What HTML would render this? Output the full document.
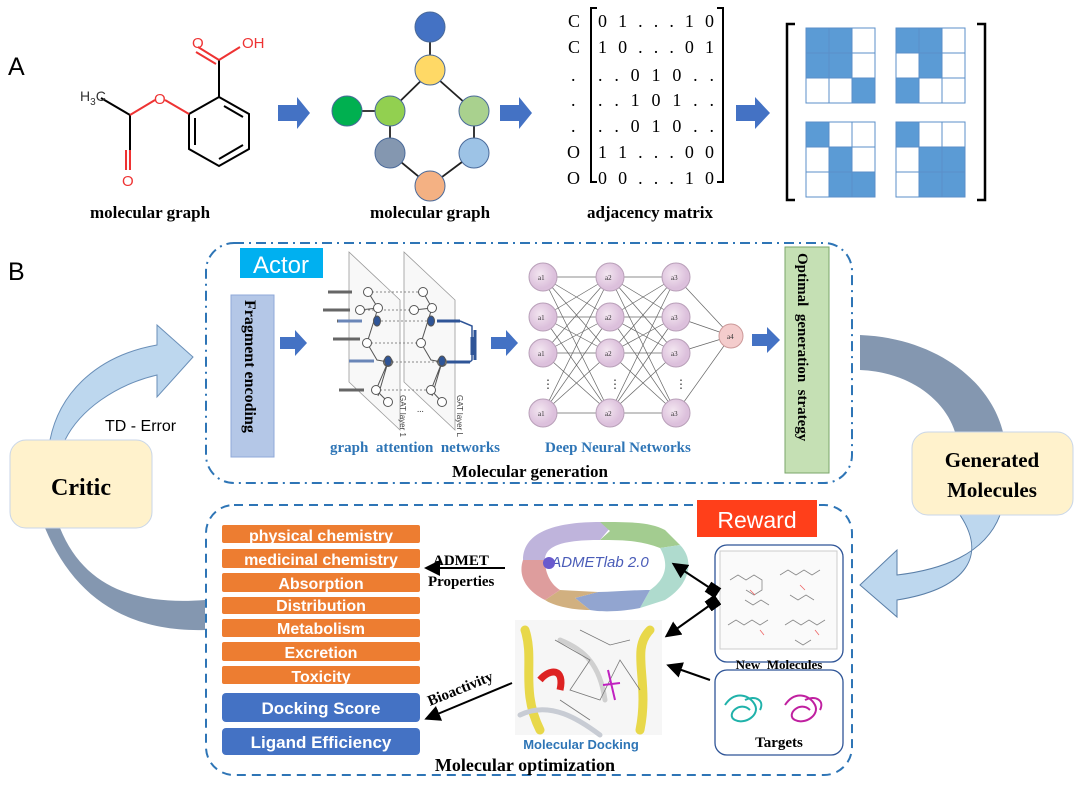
<!DOCTYPE html>
<html><head><meta charset="utf-8"><style>
html,body{margin:0;padding:0;background:#fff;}
svg{display:block;}
.s{font-family:"Liberation Serif",serif;font-weight:bold;}
.a{font-family:"Liberation Sans",sans-serif;}
</style></head><body>
<svg id="v" width="1080" height="786" viewBox="0 0 1080 786" xmlns="http://www.w3.org/2000/svg">
<defs>
<marker id="ah" markerWidth="8" markerHeight="8" refX="6" refY="4" orient="auto"><path d="M0,0 L8,4 L0,8 Z" fill="#000"/></marker>
<marker id="sq" markerWidth="6" markerHeight="6" refX="3" refY="3" orient="auto"><rect width="6" height="6" fill="#000"/></marker>
<radialGradient id="pk" cx="0.4" cy="0.4"><stop offset="0" stop-color="#f3e6f0"/><stop offset="1" stop-color="#dcc0dc"/></radialGradient>
</defs>
<!-- A -->
<text x="8" y="75" class="a" font-size="25">A</text>
<!-- aspirin -->
<g stroke="#000" stroke-width="2" fill="none">
<path d="M219,97 L249,114 L249,149 L219,166 L189,149 L189,114 Z"/>
<path d="M224,106 L243,117 M243,145 L219,159 M195,145 L195,118"/>
<path d="M219,97 L219,60"/>
<path d="M101,98 L130,115 L130,150"/>
</g>
<g stroke="#e33" stroke-width="2" fill="none">
<path d="M219,60 L198,47 M216,64 L196,52 M219,60 L240,47"/>
<path d="M130,115 L155,100 M189,114 L165,100 M130,150 L130,170 M126,150 L126,170"/>
</g>
<text x="192" y="48" fill="#e33" class="a" font-size="15">O</text>
<text x="242" y="48" fill="#e33" class="a" font-size="15">OH</text>
<text x="154" y="104" fill="#e33" class="a" font-size="15">O</text>
<text x="122" y="186" fill="#e33" class="a" font-size="15">O</text>
<text x="80" y="101" fill="#333" class="a" font-size="14">H<tspan font-size="10" dy="4">3</tspan><tspan dy="-4">C</tspan></text>
<text x="150" y="218" class="s" font-size="17" text-anchor="middle">molecular graph</text>
<!-- arrows -->
<g fill="#4472c4">
<path d="M278,105 L297,105 L297,97 L310,113 L297,129 L297,121 L278,121 Z"/>
<path d="M500,105 L519,105 L519,97 L532,113 L519,129 L519,121 L500,121 Z"/>
<path d="M736,105 L755,105 L755,97 L770,113 L755,129 L755,121 L736,121 Z"/>
</g>
<!-- graph -->
<g stroke="#222" stroke-width="1.8" fill="none">
<path d="M430,28 L430,72 L390,111 L347,111 M430,72 L474,111 L474,153 L430,186 L390,153 L390,111"/>
</g>
<g stroke="#4a6a9a" stroke-width="1">
<circle cx="430" cy="27" r="15" fill="#4472c4"/>
<circle cx="430" cy="70" r="15" fill="#ffd966"/>
<circle cx="347" cy="111" r="15" fill="#00b050"/>
<circle cx="390" cy="111" r="15" fill="#92d050"/>
<circle cx="474" cy="111" r="15" fill="#a9d18e"/>
<circle cx="390" cy="153" r="15" fill="#8497b0"/>
<circle cx="474" cy="153" r="15" fill="#9dc3e6"/>
<circle cx="430" cy="186" r="15" fill="#f4b183"/>
</g>
<text x="430" y="218" class="s" font-size="17" text-anchor="middle">molecular graph</text>
<!-- matrix -->
<g font-family="Liberation Serif,serif" font-size="18">
<text x="568" y="27">C</text><text x="568" y="53">C</text><text x="571" y="81">.</text><text x="571" y="106">.</text><text x="571" y="132">.</text><text x="567" y="158">O</text><text x="567" y="184">O</text>
<text x="598" y="27" textLength="116" lengthAdjust="spacing">0 1 . . . 1 0</text>
<text x="598" y="53" textLength="116" lengthAdjust="spacing">1 0 . . . 0 1</text>
<text x="598" y="81" textLength="116" lengthAdjust="spacing">. . 0 1 0 . .</text>
<text x="598" y="106" textLength="116" lengthAdjust="spacing">. . 1 0 1 . .</text>
<text x="598" y="132" textLength="116" lengthAdjust="spacing">. . 0 1 0 . .</text>
<text x="598" y="158" textLength="116" lengthAdjust="spacing">1 1 . . . 0 0</text>
<text x="598" y="184" textLength="116" lengthAdjust="spacing">0 0 . . . 1 0</text>
</g>
<path d="M597,8 L591,8 L591,182 L597,182 M717,8 L723,8 L723,182 L717,182" stroke="#000" stroke-width="2" fill="none"/>
<text x="650" y="218" class="s" font-size="17" text-anchor="middle">adjacency matrix</text>
<path d="M795,24 L787,24 L787,200 L795,200 M977,24 L985,24 L985,200 L977,200" stroke="#000" stroke-width="2.5" fill="none"/>
<g id="grids" stroke="#5b8fc9" stroke-width="1"></g>
<!-- B -->
<text x="8" y="280" class="a" font-size="25">B</text>
<!-- top dashed box -->
<rect x="206" y="243" width="646" height="240" rx="28" fill="none" stroke="#2e75b6" stroke-width="2" stroke-dasharray="10,5,2,5"/>
<rect x="240" y="248" width="83" height="30" fill="#00b0f0"/>
<text x="281" y="273" class="a" font-size="24" fill="#fff" text-anchor="middle">Actor</text>
<rect x="231" y="295" width="43" height="162" fill="#b4c7e7" stroke="#8fa9d9"/>
<text transform="translate(245,300) rotate(90)" class="s" font-size="16">Fragment  encoding</text>
<path d="M280,337 L295,337 L295,330 L307,343 L295,356 L295,349 L280,349 Z" fill="#4472c4"/>
<!-- GAT -->
<g stroke="#999" fill="#f4f4f4" fill-opacity="0.6" stroke-width="0.8">
<path d="M349,252 L400,300 L400,430 L349,382 Z"/>
<path d="M404,252 L455,300 L455,430 L404,382 Z"/>
</g>
<g stroke="#555" stroke-width="1" fill="#fff">
<path d="M368,292 L378,308 L367,343 L377,360 L388,362 L376,390 L388,402 M360,310 L378,308 M388,362 L378,396" fill="none"/>
<path d="M423,292 L432,308 L421,343 L431,360 L442,362 L431,390 L442,402 M414,310 L432,308 M442,362 L432,396" fill="none"/>
<g stroke-dasharray="2,2" stroke="#888"><path d="M368,292 L423,292 M360,310 L414,310 M377,321 L431,321 M367,343 L421,343 M388,362 L442,362 M376,390 L431,390"/></g>
<circle cx="368" cy="292" r="4.5"/><circle cx="360" cy="310" r="4.5"/><circle cx="378" cy="308" r="4.5"/><circle cx="367" cy="343" r="4.5"/><circle cx="388" cy="362" r="4.5"/><circle cx="376" cy="390" r="4.5"/><circle cx="388" cy="402" r="4.5"/>
<circle cx="423" cy="292" r="4.5"/><circle cx="414" cy="310" r="4.5"/><circle cx="432" cy="308" r="4.5"/><circle cx="421" cy="343" r="4.5"/><circle cx="442" cy="362" r="4.5"/><circle cx="431" cy="390" r="4.5"/><circle cx="442" cy="402" r="4.5"/>
<ellipse cx="377" cy="321" rx="3.5" ry="5" fill="#2f5597"/><ellipse cx="388" cy="361" rx="3.5" ry="5" fill="#2f5597"/>
<ellipse cx="431" cy="321" rx="3.5" ry="5" fill="#2f5597"/><ellipse cx="442" cy="361" rx="3.5" ry="5" fill="#2f5597"/>
</g>
<g stroke-width="3">
<path d="M328,292 L352,292 M323,310 L350,310 M337,321 L362,321 M333,339 L360,339 M349,361 L374,361 M339,390 L364,390" stroke="#666"/>
<path d="M338,321 L362,321 M349,361 L374,361" stroke="#6a86b8"/>
<path d="M437,321 L460,321 M447,362 L470,362" stroke="#2f5597"/>
<path d="M472,337 L472,355 M475,330 L475,360" stroke="#2f5597"/>
</g>
<path d="M460,321 L472,326 L472,360 L470,362" stroke="#2f5597" fill="none" stroke-width="1.5"/>
<text transform="translate(400,395) rotate(90)" font-size="8" class="a" fill="#444">GAT layer 1</text>
<text transform="translate(457,395) rotate(90)" font-size="8" class="a" fill="#444">GAT layer L</text>
<text x="417" y="412" font-size="9" fill="#444">...</text>
<text x="330" y="452" class="s" font-size="15" fill="#2e75b6" xml:space="preserve">graph  attention  networks</text>
<path d="M491,337 L506,337 L506,330 L518,343 L506,356 L506,349 L491,349 Z" fill="#4472c4"/>
<!-- DNN -->
<g id="dnn"></g>
<text x="545" y="452" class="s" font-size="15" fill="#2e75b6">Deep Neural  Networks</text>
<path d="M752,334 L767,334 L767,327 L780,340 L767,353 L767,346 L752,346 Z" fill="#4472c4"/>
<rect x="785" y="247" width="44" height="226" fill="#c5e0b4" stroke="#7aa66a"/>
<text transform="translate(798,253) rotate(90)" class="s" font-size="15" xml:space="preserve">Optimal  generation  strategy</text>
<text x="530" y="477" class="s" font-size="17" text-anchor="middle">Molecular generation</text>
<!-- Critic & arrows -->
<path d="M50,440 C60,390 100,355 157,345 L157,325 L193,357 L157,397 L157,375 C115,385 80,410 65,440 Z" fill="#bdd7ee" stroke="#6a8fb8" stroke-width="1"/>
<text x="105" y="431" class="a" font-size="16">TD - Error</text>
<path d="M60,528 C85,590 140,605 205,600 L205,630 C130,632 75,600 45,528 Z" fill="#8497b0"/>
<rect x="10" y="440" width="142" height="88" rx="16" fill="#fff2cc" stroke="#c9d6e8"/>
<text x="81" y="495" class="s" font-size="24" text-anchor="middle">Critic</text>
<path d="M860,335 C935,338 990,380 1003,432 L955,432 C945,400 910,372 860,370 Z" fill="#8497b0"/>
<path d="M1000,515 C985,555 940,570 897,575 L897,550 L860,585 L897,617 L897,600 C960,590 990,560 960,515 Z" fill="#bdd7ee" stroke="#5a7fa8" stroke-width="1"/>
<rect x="912" y="432" width="161" height="83" rx="16" fill="#fff2cc" stroke="#c9d6e8"/>
<text x="992" y="467" class="s" font-size="21" text-anchor="middle">Generated</text>
<text x="992" y="497" class="s" font-size="21" text-anchor="middle">Molecules</text>
<!-- bottom box -->
<rect x="206" y="505" width="646" height="270" rx="28" fill="none" stroke="#2e75b6" stroke-width="2" stroke-dasharray="9,6"/>
<g fill="#ed7d31">
<rect x="222" y="525" width="198" height="18" rx="2"/>
<rect x="222" y="549" width="198" height="19" rx="2"/>
<rect x="222" y="573" width="198" height="19" rx="2"/>
<rect x="222" y="597" width="198" height="17" rx="2"/>
<rect x="222" y="619" width="198" height="18" rx="2"/>
<rect x="222" y="642" width="198" height="19" rx="2"/>
<rect x="222" y="666" width="198" height="18" rx="2"/>
</g>
<g fill="#4472c4"><rect x="222" y="693" width="198" height="29" rx="4"/><rect x="222" y="728" width="198" height="27" rx="4"/></g>
<g class="a" font-size="16" fill="#fff" text-anchor="middle" font-weight="bold">
<text x="321" y="541">physical chemistry</text>
<text x="321" y="565">medicinal chemistry</text>
<text x="321" y="589">Absorption</text>
<text x="321" y="611">Distribution</text>
<text x="321" y="634">Metabolism</text>
<text x="321" y="658">Excretion</text>
<text x="321" y="682">Toxicity</text>
<text x="321" y="714" font-size="17">Docking  Score</text>
<text x="321" y="748" font-size="17">Ligand Efficiency</text>
</g>
<text x="433" y="565" class="s" font-size="15">ADMET</text>
<text x="428" y="586" class="s" font-size="15">Properties</text>
<line x1="505" y1="568" x2="428" y2="568" stroke="#000" stroke-width="2" marker-end="url(#ah)"/>
<text transform="translate(430,706) rotate(-22)" class="s" font-size="15">Bioactivity</text>
<line x1="512" y1="683" x2="428" y2="718" stroke="#000" stroke-width="2" marker-end="url(#ah)"/>
<!-- ADMETlab wheel -->
<g opacity="0.85">
<path d="M523,560 C523,530 560,522 600,522 L610,528 L600,540 C565,540 545,545 545,560 Z" fill="#b4a7d6"/>
<path d="M600,522 C630,522 650,522 665,530 L680,545 L660,548 C640,540 620,540 600,540 L610,531 Z" fill="#93c47d"/>
<path d="M680,545 C695,560 690,585 665,600 L640,608 L650,590 C665,580 670,565 660,548 Z" fill="#a2d5c6"/>
<path d="M640,608 C620,612 600,612 590,610 L575,598 L598,592 C615,592 630,590 650,590 Z" fill="#7f96c8"/>
<path d="M590,610 C570,610 552,605 545,600 L560,590 L575,598 Z M560,590 L598,592 L575,598 Z" fill="#c9a36b"/>
<path d="M545,600 C525,590 518,575 523,560 L545,560 C545,575 552,585 560,590 Z" fill="#d98c8c"/>
</g>
<text x="600" y="567" font-size="15" font-style="italic" fill="#4a5cb8" class="a" text-anchor="middle">ADMETlab 2.0</text>
<circle cx="549" cy="563" r="6" fill="#6a5acd"/>
<!-- docking -->
<rect x="515" y="620" width="147" height="115" fill="#f6f6f6"/>
<g fill="none" stroke-width="9" stroke-linecap="round">
<path d="M525,630 C535,660 520,690 540,730" stroke="#e8d84a"/>
<path d="M650,630 C630,650 650,680 640,730" stroke="#e8d84a"/>
<path d="M560,640 C585,650 600,665 605,700" stroke="#d0d0d0" stroke-width="5"/>
<path d="M520,715 C550,700 580,720 600,735" stroke="#c8ccd4" stroke-width="5"/>
</g>
<path d="M540,680 C550,668 565,668 560,690" fill="none" stroke="#d22" stroke-width="7"/>
<g stroke="#777" stroke-width="0.8" fill="none"><path d="M555,640 L590,660 L570,690 L600,700 L620,660 L640,690 M580,630 L610,645 L630,640 M560,700 L590,720"/></g>
<path d="M608,670 L615,700 M603,685 L620,683" stroke="#c020c0" stroke-width="2"/>
<text x="581" y="749" class="a" font-size="13" font-weight="bold" fill="#2e75b6" text-anchor="middle">Molecular Docking</text>
<text x="525" y="771" class="s" font-size="18" text-anchor="middle">Molecular optimization</text>
<!-- reward side -->
<rect x="697" y="500" width="120" height="37" fill="#ff3f1a"/>
<text x="757" y="528" class="a" font-size="23" fill="#fff" text-anchor="middle">Reward</text>
<rect x="715" y="545" width="128" height="117" rx="12" fill="#fff" stroke="#2f5597" stroke-width="1.3"/>
<rect x="720" y="551" width="117" height="98" fill="#fafafa" stroke="#ccc"/>
<g stroke="#888" stroke-width="0.8" fill="none">
<path d="M730,580 l8,-5 l8,5 l8,-5 l8,5 l0,10 l-8,5 l-8,-5 M745,600 l8,5 l8,-5 l8,5 M780,575 l8,-5 l8,5 l8,-5 l8,5 l8,-5 M790,595 l8,5 l8,-5 l8,5 M728,625 l8,-5 l8,5 l8,-5 l8,5 l8,-5 M785,625 l8,-5 l8,5 l8,-5 l8,5 l8,-5 M795,640 l8,5 l8,-5"/>
</g>
<g stroke="#e66" stroke-width="0.8"><path d="M750,590 l5,5 M800,585 l5,5 M760,630 l4,5 M815,630 l4,5"/></g>
<text x="779" y="669" class="s" font-size="13" text-anchor="middle" xml:space="preserve">New  Molecules</text>
<rect x="715" y="670" width="128" height="85" rx="12" fill="#fff" stroke="#2f5597" stroke-width="1.3"/>
<g fill="none" stroke-width="2">
<path d="M725,705 c10,-15 25,-10 30,0 c5,10 -10,20 -20,15 c-10,-5 5,-20 15,-10 M745,700 c10,-5 20,0 15,10" stroke="#20b2aa"/>
<path d="M785,705 c10,-15 25,-10 30,0 c5,10 -10,20 -20,15 c-10,-5 5,-20 15,-10 M805,700 c10,-5 20,0 15,10" stroke="#c020a0"/>
</g>
<text x="779" y="747" class="s" font-size="15" text-anchor="middle">Targets</text>
<line x1="713" y1="590" x2="675" y2="565" stroke="#000" stroke-width="2" marker-end="url(#ah)" marker-start="url(#sq)"/>
<line x1="713" y1="603" x2="668" y2="635" stroke="#000" stroke-width="2" marker-end="url(#ah)" marker-start="url(#sq)"/>
<line x1="710" y1="680" x2="670" y2="666" stroke="#000" stroke-width="2" marker-end="url(#ah)"/>
</svg>
<script>
var NS="http://www.w3.org/2000/svg",v=document.getElementById('v');
function el(p,t,a){var e=document.createElementNS(NS,t);for(var k in a)e.setAttribute(k,a[k]);p.appendChild(e);return e;}
var g=document.getElementById('grids');
var pats=[[806,28,"110110001"],[896,28,"110010100"],[806,122,"100010011"],[896,122,"100011011"]];
pats.forEach(function(p){for(var i=0;i<9;i++){var r=Math.floor(i/3),c=i%3;el(g,'rect',{x:p[0]+c*23,y:p[1]+r*25,width:23,height:25,fill:p[2][i]=='1'?'#5b9bd5':'#fff'});}});
var d=document.getElementById('dnn'),xs=[543,610,676],ys=[277,317,353,413];
for(var c=0;c<2;c++)for(var i=0;i<4;i++)for(var j=0;j<4;j++)el(d,'line',{x1:xs[c],y1:ys[i],x2:xs[c+1],y2:ys[j],stroke:'#666','stroke-width':0.7});
for(var i=0;i<4;i++)el(d,'line',{x1:xs[2],y1:ys[i],x2:731,y2:336,stroke:'#666','stroke-width':0.7});
for(var c=0;c<3;c++){for(var i=0;i<4;i++){el(d,'circle',{cx:xs[c],cy:ys[i],r:14,fill:'url(#pk)',stroke:'#b9a0b9'});var t=el(d,'text',{x:xs[c]-5,y:ys[i]+3,'font-size':7,fill:'#333'});t.textContent='a'+(c+1);}
var t2=el(d,'text',{x:xs[c]-1,y:388,'font-size':12,fill:'#333'});t2.textContent='⋮';}
el(d,'circle',{cx:731,cy:336,r:12,fill:'#f4cccc',stroke:'#c99'});
var t3=el(d,'text',{x:727,y:339,'font-size':7,fill:'#333'});t3.textContent='a4';
</script>
</body></html>
